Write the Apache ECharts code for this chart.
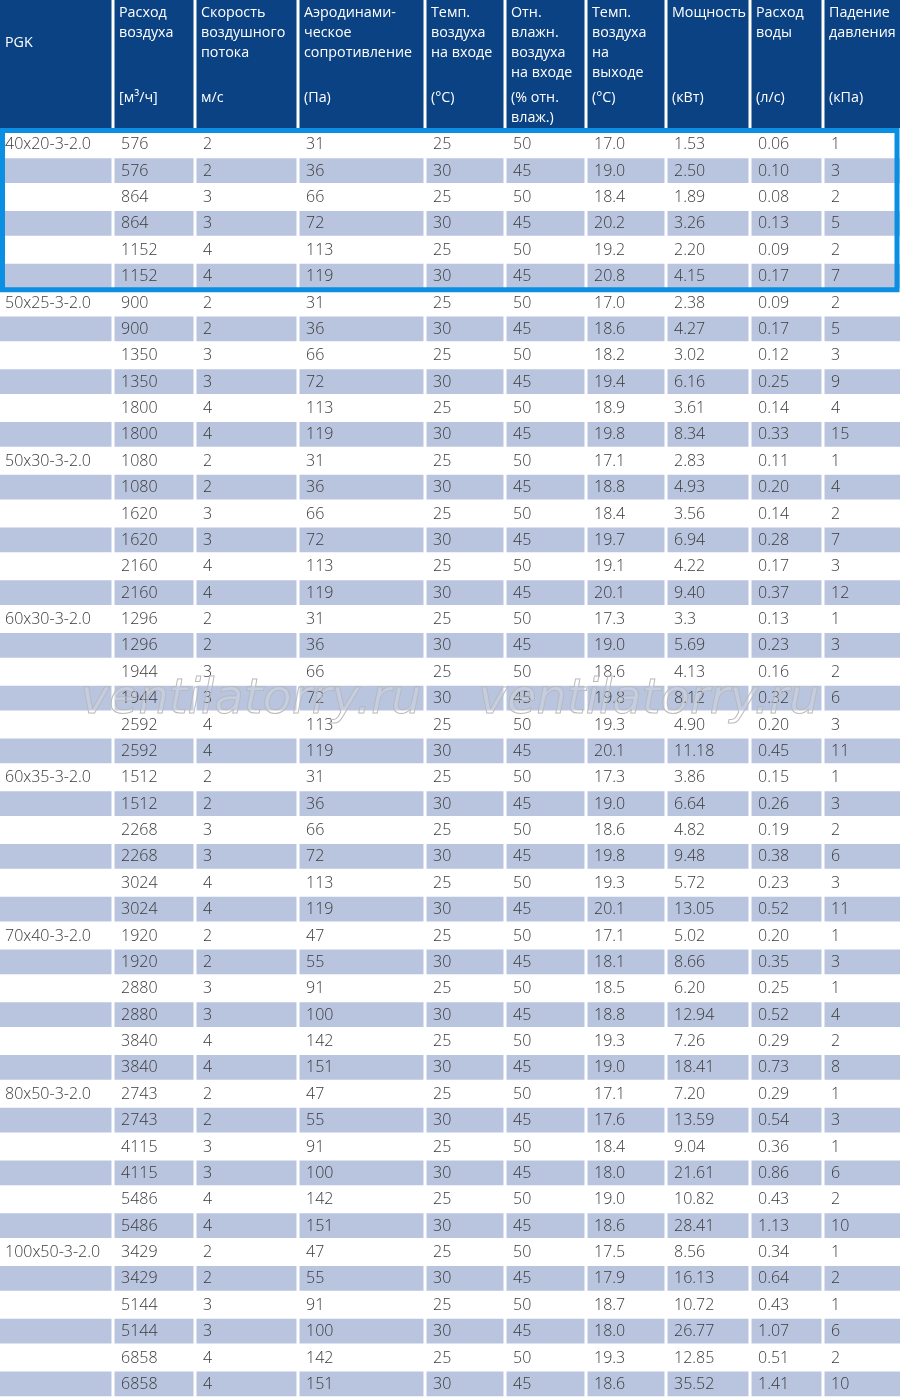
<!DOCTYPE html>
<html>

<head>
    <meta charset="UTF-8">
    <title>PGK</title>
    <script src="https://cdn.jsdelivr.net/npm/echarts/dist/echarts.min.js"></script>
    <style>
        body { margin: 0; background: #fff; }
    </style>
</head>

<body>
    <div id="chart" style="width: 900px;height:1397px;"></div>
    <script type="text/javascript">
        var myChart = echarts.init(document.getElementById('chart'));

        // Header texts
        var headerTitles = ['PGK', 'Расход\nвоздуха', 'Скорость\nвоздушного\nпотока', 'Аэродинами-\nческое\nсопротивление',
            'Темп.\nвоздуха\nна входе', 'Отн.\nвлажн.\nвоздуха\nна входе', 'Темп.\nвоздуха\nна\nвыходе',
            'Мощность', 'Расход\nводы', 'Падение\nдавления'];
        var headerUnits = ['', '[м³/ч]', 'м/с', '(Па)', '(°C)', '(% отн.\nвлаж.)', '(°C)', '(кВт)', '(л/с)', '(кПа)'];

        // Table data, 6 rows per model
        var models = ['40x20-3-2.0', '50x25-3-2.0', '50x30-3-2.0', '60x30-3-2.0', '60x35-3-2.0', '70x40-3-2.0', '80x50-3-2.0', '100x50-3-2.0'];
        var airFlow = ['576', '576', '864', '864', '1152', '1152',
            '900', '900', '1350', '1350', '1800', '1800',
            '1080', '1080', '1620', '1620', '2160', '2160',
            '1296', '1296', '1944', '1944', '2592', '2592',
            '1512', '1512', '2268', '2268', '3024', '3024',
            '1920', '1920', '2880', '2880', '3840', '3840',
            '2743', '2743', '4115', '4115', '5486', '5486',
            '3429', '3429', '5144', '5144', '6858', '6858'];
        var speed = ['2', '2', '3', '3', '4', '4',
            '2', '2', '3', '3', '4', '4',
            '2', '2', '3', '3', '4', '4',
            '2', '2', '3', '3', '4', '4',
            '2', '2', '3', '3', '4', '4',
            '2', '2', '3', '3', '4', '4',
            '2', '2', '3', '3', '4', '4',
            '2', '2', '3', '3', '4', '4'];
        var resistance = ['31', '36', '66', '72', '113', '119',
            '31', '36', '66', '72', '113', '119',
            '31', '36', '66', '72', '113', '119',
            '31', '36', '66', '72', '113', '119',
            '31', '36', '66', '72', '113', '119',
            '47', '55', '91', '100', '142', '151',
            '47', '55', '91', '100', '142', '151',
            '47', '55', '91', '100', '142', '151'];
        var tempIn = ['25', '30', '25', '30', '25', '30',
            '25', '30', '25', '30', '25', '30',
            '25', '30', '25', '30', '25', '30',
            '25', '30', '25', '30', '25', '30',
            '25', '30', '25', '30', '25', '30',
            '25', '30', '25', '30', '25', '30',
            '25', '30', '25', '30', '25', '30',
            '25', '30', '25', '30', '25', '30'];
        var humidityIn = ['50', '45', '50', '45', '50', '45',
            '50', '45', '50', '45', '50', '45',
            '50', '45', '50', '45', '50', '45',
            '50', '45', '50', '45', '50', '45',
            '50', '45', '50', '45', '50', '45',
            '50', '45', '50', '45', '50', '45',
            '50', '45', '50', '45', '50', '45',
            '50', '45', '50', '45', '50', '45'];
        var tempOut = ['17.0', '19.0', '18.4', '20.2', '19.2', '20.8',
            '17.0', '18.6', '18.2', '19.4', '18.9', '19.8',
            '17.1', '18.8', '18.4', '19.7', '19.1', '20.1',
            '17.3', '19.0', '18.6', '19.8', '19.3', '20.1',
            '17.3', '19.0', '18.6', '19.8', '19.3', '20.1',
            '17.1', '18.1', '18.5', '18.8', '19.3', '19.0',
            '17.1', '17.6', '18.4', '18.0', '19.0', '18.6',
            '17.5', '17.9', '18.7', '18.0', '19.3', '18.6'];
        var power = ['1.53', '2.50', '1.89', '3.26', '2.20', '4.15',
            '2.38', '4.27', '3.02', '6.16', '3.61', '8.34',
            '2.83', '4.93', '3.56', '6.94', '4.22', '9.40',
            '3.3', '5.69', '4.13', '8.12', '4.90', '11.18',
            '3.86', '6.64', '4.82', '9.48', '5.72', '13.05',
            '5.02', '8.66', '6.20', '12.94', '7.26', '18.41',
            '7.20', '13.59', '9.04', '21.61', '10.82', '28.41',
            '8.56', '16.13', '10.72', '26.77', '12.85', '35.52'];
        var waterFlow = ['0.06', '0.10', '0.08', '0.13', '0.09', '0.17',
            '0.09', '0.17', '0.12', '0.25', '0.14', '0.33',
            '0.11', '0.20', '0.14', '0.28', '0.17', '0.37',
            '0.13', '0.23', '0.16', '0.32', '0.20', '0.45',
            '0.15', '0.26', '0.19', '0.38', '0.23', '0.52',
            '0.20', '0.35', '0.25', '0.52', '0.29', '0.73',
            '0.29', '0.54', '0.36', '0.86', '0.43', '1.13',
            '0.34', '0.64', '0.43', '1.07', '0.51', '1.41'];
        var pressureDrop = ['1', '3', '2', '5', '2', '7',
            '2', '5', '3', '9', '4', '15',
            '1', '4', '2', '7', '3', '12',
            '1', '3', '2', '6', '3', '11',
            '1', '3', '2', '6', '3', '11',
            '1', '3', '1', '4', '2', '8',
            '1', '3', '1', '6', '2', '10',
            '1', '2', '1', '6', '2', '10'];
        var highlightRows = [0, 5];

        // layout
        var colEdges = [0, 113, 195, 298, 425, 505, 586, 666, 750, 823, 900];
        var rowsPerModel = 6;
        var columns = [null, airFlow, speed, resistance, tempIn, humidityIn, tempOut, power, waterFlow, pressureDrop];
        var headerBg = '#0b4283';
        var bandColor = '#b9c5df';
        var textColor = '#3a3a3a';
        var cellFont = '300 16px "Open Sans"';
        var headerFont = '14.3px "Open Sans"';
        var watermarkFont = 'italic 200 48px "DejaVu Sans"';

        var rowIds = airFlow.map(function (v, i) { return i; });
        var cellData = [];
        rowIds.forEach(function (r) {
            for (var c = 0; c < columns.length; c++) cellData.push([c, r]);
        });
        var headerData = headerTitles.map(function (t, i) { return [i, 0]; });

        function cellText(col, row) {
            if (col === 0) return row % rowsPerModel === 0 ? models[row / rowsPerModel] : '';
            return columns[col][row];
        }

        function renderHeader(params, api) {
            var col = api.value(0);
            var x0 = api.coord([colEdges[col], 0])[0];
            var x1 = api.coord([colEdges[col + 1], 0])[0];
            var cy = api.coord([0, 0])[1];
            var h = api.size([0, 1])[1];
            var top = cy - h / 2;
            var left = col ? x0 + 1.5 : x0;
            var right = col === columns.length - 1 ? x1 : x1 - 1.5;
            var children = [{
                type: 'rect',
                shape: { x: left, y: top, width: right - left, height: h },
                style: { fill: headerBg }
            }];
            if (col === 0) {
                children.push({
                    type: 'text', x: x0 + 5, y: top + 43,
                    style: { text: headerTitles[col], fill: '#fff', font: headerFont, verticalAlign: 'middle' }
                });
            } else {
                children.push({
                    type: 'text', x: x0 + 6, y: top + 3,
                    style: { text: headerTitles[col], fill: '#fff', font: headerFont, lineHeight: 20, verticalAlign: 'top' }
                });
                children.push({
                    type: 'text', x: x0 + 6, y: top + 88,
                    style: { text: headerUnits[col], fill: '#fff', font: headerFont, lineHeight: 20, verticalAlign: 'top' }
                });
            }
            return { type: 'group', children: children };
        }

        function renderCell(params, api) {
            var col = api.value(0), row = api.value(1);
            var x0 = api.coord([colEdges[col], row])[0];
            var x1 = api.coord([colEdges[col + 1], row])[0];
            var cy = api.coord([0, row])[1];
            var h = api.size([0, 1])[1];
            var children = [];
            if (row % 2 === 1) {
                var left = col ? x0 + 1.5 : x0;
                var right = col === columns.length - 1 ? x1 : x1 - 1.5;
                children.push({
                    type: 'rect',
                    shape: { x: left, y: cy - h / 2 + 0.75, width: right - left, height: h - 1.5 },
                    style: { fill: bandColor }
                });
            }
            var txt = cellText(col, row);
            if (txt) {
                children.push({
                    type: 'text', x: x0 + (col === 0 ? 5 : 8), y: cy + 0.5,
                    style: { text: txt, fill: textColor, font: cellFont, verticalAlign: 'middle', align: 'left' }
                });
            }
            return { type: 'group', children: children };
        }

        function renderHighlight(params, api) {
            var r0 = api.value(0), r1 = api.value(1);
            var h = api.size([0, 1])[1];
            var yTop = api.coord([0, r0])[1] - h / 2;
            var yBot = api.coord([0, r1])[1] + h / 2;
            var xl = api.coord([colEdges[0], r0])[0];
            var xr = api.coord([colEdges[colEdges.length - 1], r0])[0];
            return {
                type: 'rect',
                shape: { x: xl + 2.5, y: yTop - 0.5, width: xr - xl - 5.5, height: yBot - yTop + 1 },
                style: { fill: 'none', stroke: '#0a8fe2', lineWidth: 5 }
            };
        }

        var option = {
            animation: false,
            backgroundColor: '#fff',
            grid: [
                { left: 0, right: 0, top: 0, height: 128 },
                { left: 0, right: 0, top: 131, bottom: 0 }
            ],
            xAxis: [
                { type: 'value', gridIndex: 0, min: 0, max: 900, show: false },
                { type: 'value', gridIndex: 1, min: 0, max: 900, show: false }
            ],
            yAxis: [
                { type: 'category', gridIndex: 0, data: ['header'], show: false },
                { type: 'category', gridIndex: 1, data: rowIds, inverse: true, show: false }
            ],
            graphic: [
                {
                    type: 'text', left: 80, top: 676, z: 100,
                    style: { text: 'ventilatorry.ru', font: watermarkFont, fill: 'rgba(255,255,255,0.15)', stroke: '#b5b5b5', lineWidth: 1 }
                },
                {
                    type: 'text', left: 478, top: 676, z: 100,
                    style: { text: 'ventilatorry.ru', font: watermarkFont, fill: 'rgba(255,255,255,0.15)', stroke: '#b5b5b5', lineWidth: 1 }
                }
            ],
            series: [
                {
                    type: 'custom',
                    xAxisIndex: 0, yAxisIndex: 0,
                    renderItem: renderHeader,
                    data: headerData
                },
                {
                    type: 'custom',
                    xAxisIndex: 1, yAxisIndex: 1,
                    renderItem: renderCell,
                    data: cellData
                },
                {
                    type: 'custom',
                    xAxisIndex: 1, yAxisIndex: 1,
                    renderItem: renderHighlight,
                    encode: { x: -1, y: [0, 1] },
                    z: 5,
                    data: [highlightRows]
                }
            ]
        };

        myChart.setOption(option);
    </script>
</body>

</html>
